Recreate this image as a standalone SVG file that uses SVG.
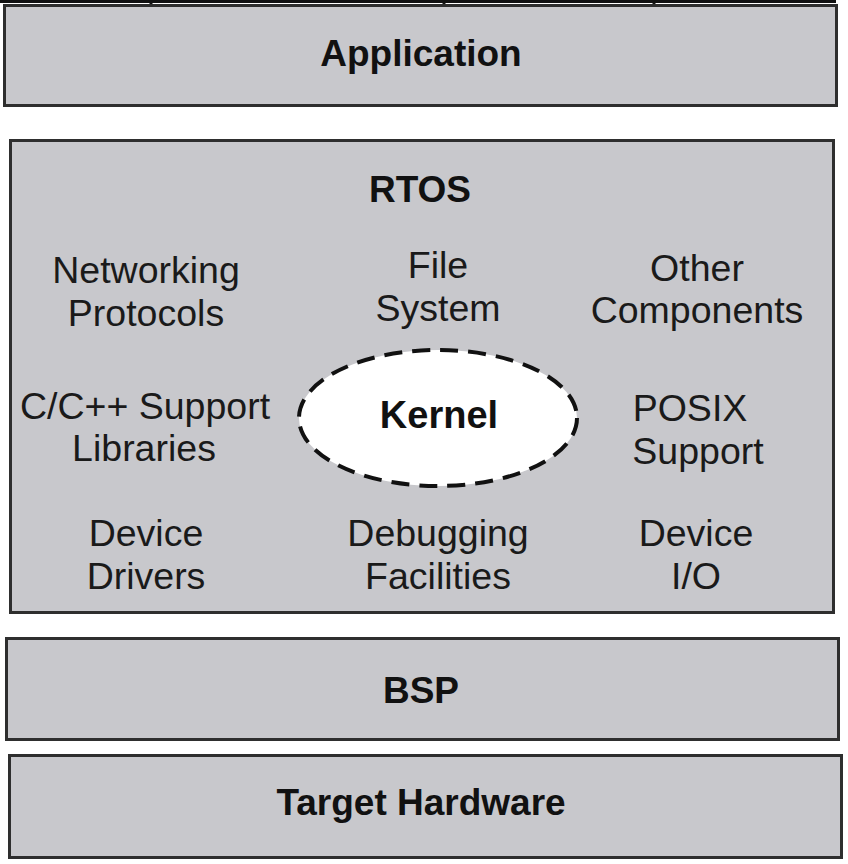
<svg xmlns="http://www.w3.org/2000/svg" width="848" height="864" viewBox="0 0 848 864">
<style>
.box{fill:#c8c8cc;stroke:#2e2e2e;stroke-width:3}
.t{font-family:"Liberation Sans",Arial,sans-serif;font-size:37.5px;fill:#1a1a1a;text-anchor:middle}
.b{font-weight:bold;font-size:37px;fill:#111}
.edge{stroke:#111;stroke-width:3;fill:none}
</style>
<rect width="848" height="864" fill="#ffffff"/>
<g id="top-edge">
<path class="edge" d="M0 1.5H836M151 0V4M444 0V4M654 0V4"/>
</g>
<g id="application">
<rect class="box" x="4.5" y="5.5" width="832" height="100"/>
<text class="t b" x="421" y="66">Application</text>
</g>
<g id="rtos">
<rect class="box" x="10.5" y="140.5" width="823" height="472"/>
<text class="t b" x="420" y="202">RTOS</text>
</g>
<g id="networking">
<text class="t" x="146" y="283">Networking</text>
<text class="t" x="146" y="326">Protocols</text>
</g>
<g id="filesystem">
<text class="t" x="438" y="278">File</text>
<text class="t" x="438" y="321">System</text>
</g>
<g id="other">
<text class="t" x="697" y="281">Other</text>
<text class="t" x="697" y="323">Components</text>
</g>
<g id="cpp">
<text class="t" x="145" y="419">C/C++ Support</text>
<text class="t" x="144" y="461">Libraries</text>
</g>
<g id="kernel">
<ellipse cx="438" cy="418" rx="139" ry="68" fill="#ffffff" stroke="#111" stroke-width="4" stroke-dasharray="18 10"/>
<text class="t b" x="439" y="428" style="font-size:38px">Kernel</text>
</g>
<g id="posix">
<text class="t" x="690" y="421">POSIX</text>
<text class="t" x="698" y="464">Support</text>
</g>
<g id="drivers">
<text class="t" x="146" y="546">Device</text>
<text class="t" x="146" y="589">Drivers</text>
</g>
<g id="debugging">
<text class="t" x="438" y="546">Debugging</text>
<text class="t" x="438" y="589">Facilities</text>
</g>
<g id="deviceio">
<text class="t" x="696" y="546">Device</text>
<text class="t" x="696" y="589">I/O</text>
</g>
<g id="bsp">
<rect class="box" x="6.5" y="638.5" width="832" height="101"/>
<text class="t b" x="421" y="703">BSP</text>
</g>
<g id="hardware">
<rect class="box" x="9.5" y="755.5" width="832" height="102"/>
<text class="t b" x="421" y="815">Target Hardware</text>
</g>
<g id="connectors"></g>
</svg>
